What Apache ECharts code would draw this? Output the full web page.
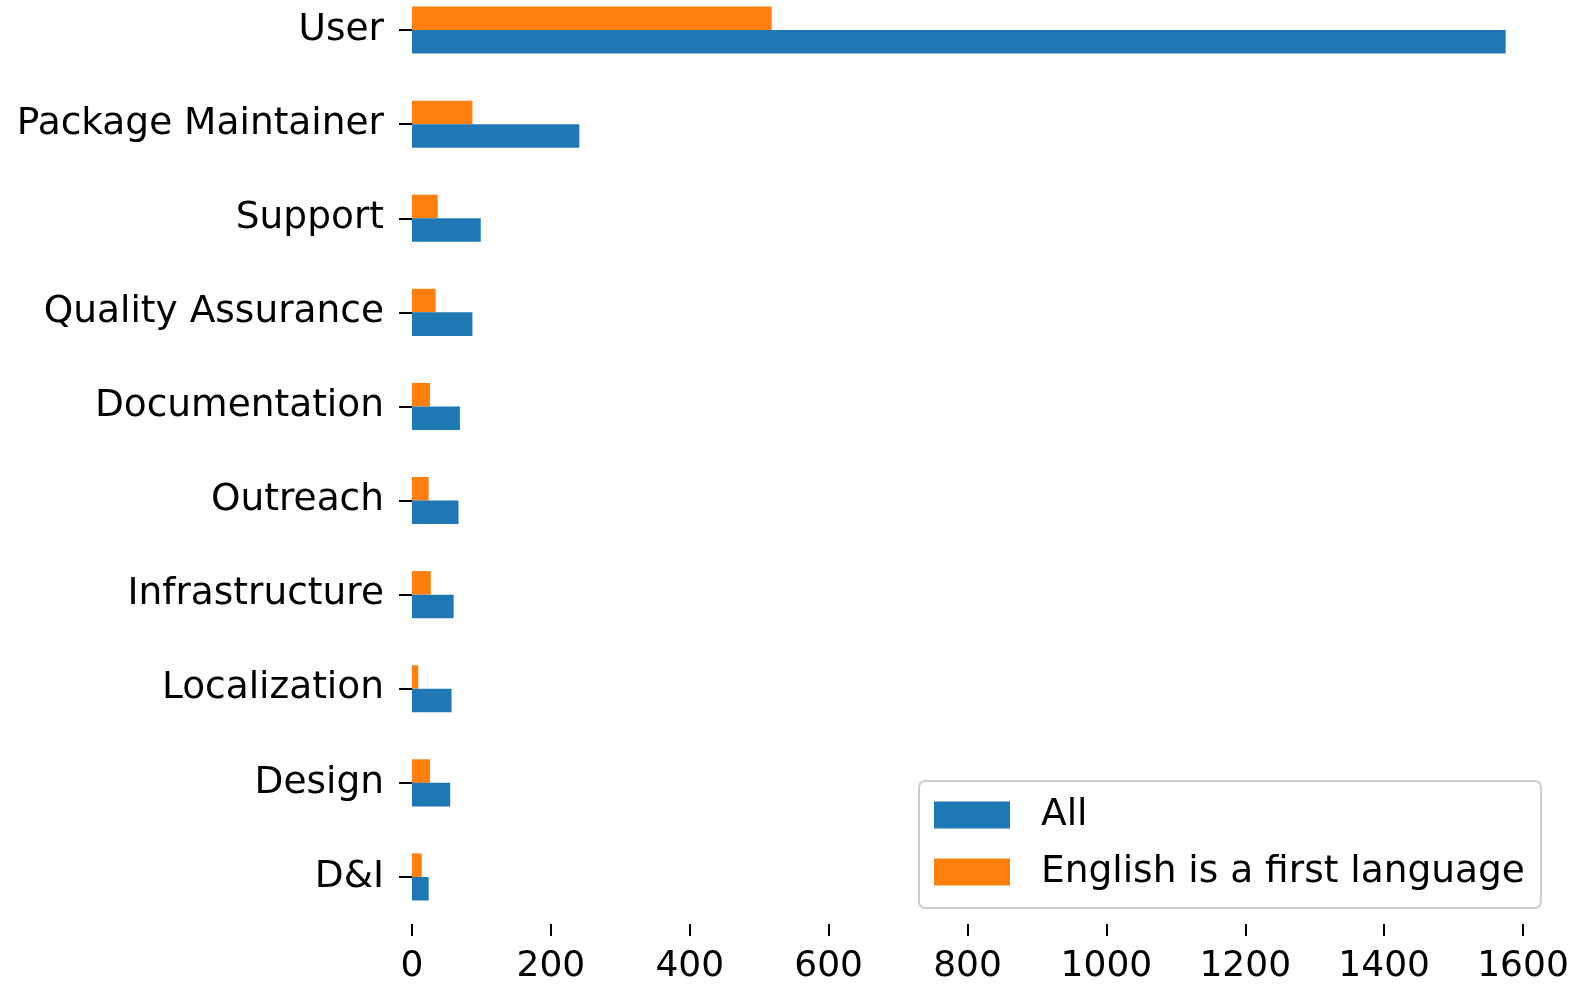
<!DOCTYPE html>
<html>
<head>
<meta charset="utf-8">
<script src="https://cdn.jsdelivr.net/npm/echarts@6/dist/echarts.min.js"></script>
<style>
html,body{margin:0;padding:0;background:#fff;overflow:hidden;width:1574px;height:985px;}
#chart{width:1574px;height:1002px;margin-top:-17px;}
</style>
</head>
<body>
<div id="chart"></div>
<script>
const categories = ["User","Package Maintainer","Support","Quality Assurance","Documentation","Outreach","Infrastructure","Localization","Design","D&I"];
const allValues = [1575, 241, 99, 87, 69, 67, 60, 57, 55, 24];
const englishValues = [518, 87, 37, 34, 26, 24, 27, 9, 26, 14];
const xTicks = [0, 200, 400, 600, 800, 1000, 1200, 1400, 1600];
const seriesNames = ["All", "English is a first language"];

const FONT = "DejaVu Sans";
const chart = echarts.init(document.getElementById('chart'));
chart.setOption({
  animation: false,
  backgroundColor: '#fff',
  textStyle: {fontFamily: FONT},
  grid: {left: 412, right: 51, top: 0, bottom: 60, containLabel: false},
  legend: {
    orient: 'vertical',
    left: 919, top: 798,
    data: seriesNames,
    itemWidth: 76, itemHeight: 27, itemGap: 19,
    padding: [15, 16, 17, 15],
    borderColor: '#cccccc', borderWidth: 2, borderRadius: 6,
    backgroundColor: 'rgba(255,255,255,0.8)',
    icon: 'rect',
    textStyle: {fontFamily: FONT, fontSize: 37.5, lineHeight: 30, color: '#000', padding: [0,0,0,26]}
  },
  xAxis: {
    type: 'value',
    min: xTicks[0], max: xTicks[xTicks.length-1], interval: 200,
    axisLine: {show: false},
    axisTick: {show: true, length: 12, lineStyle: {color: '#000', width: 2}},
    axisLabel: {fontFamily: FONT, fontSize: 36, color: '#000', margin: 25, showMaxLabel: true,
      formatter: function (v) { return String(v); }},
    splitLine: {show: false}
  },
  yAxis: {
    type: 'category',
    data: categories,
    inverse: true,
    axisLine: {show: false},
    axisTick: {show: true, alignWithLabel: true, length: 13, lineStyle: {color: '#000', width: 2}},
    axisLabel: {fontFamily: FONT, fontSize: 37.5, color: '#000', margin: 28, padding: [6, 0, 0, 0]}
  },
  series: [
    {name: seriesNames[1], type: 'bar', data: englishValues, itemStyle: {color: '#ff7f0e'}, barGap: '0%', barCategoryGap: '50%'},
    {name: seriesNames[0], type: 'bar', data: allValues, itemStyle: {color: '#1f77b4'}, barGap: '0%', barCategoryGap: '50%'}
  ]
});
</script>
</body>
</html>
